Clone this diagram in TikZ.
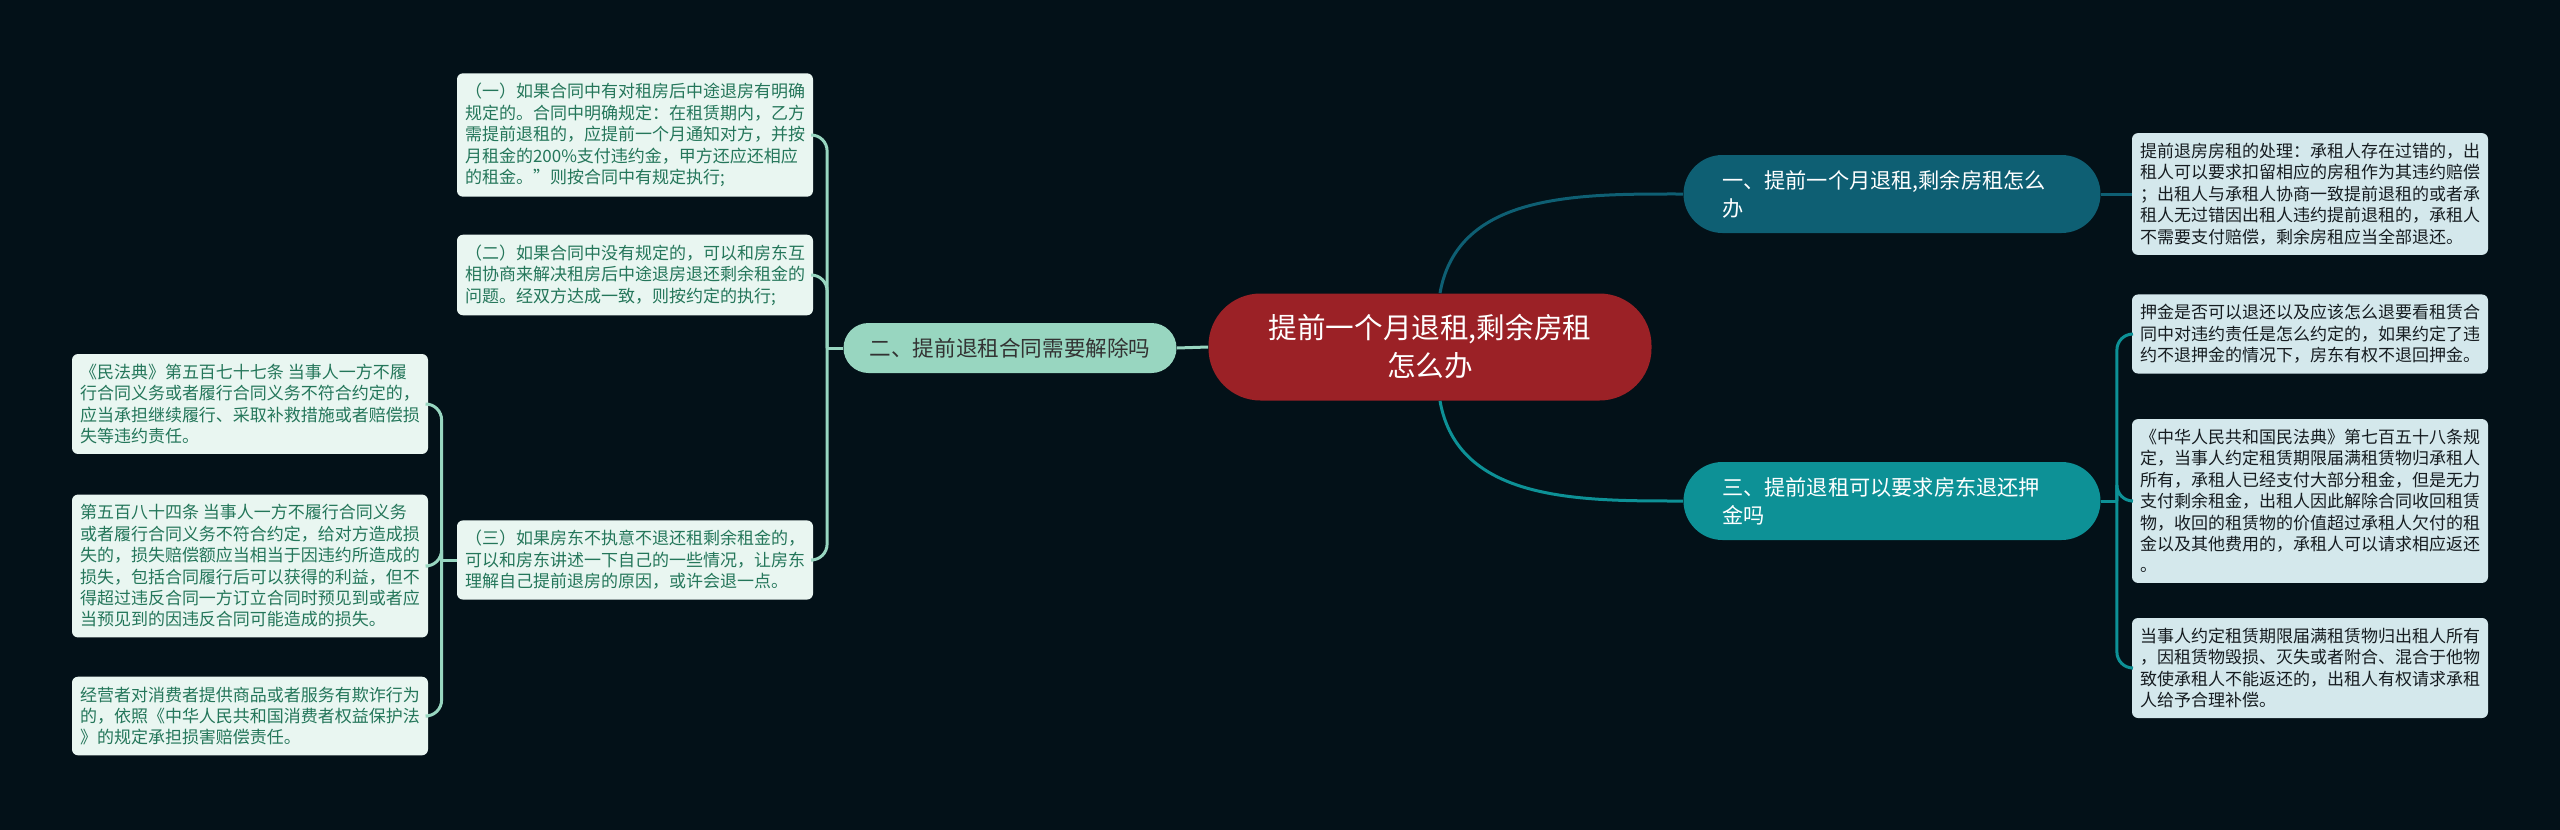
\documentclass[tikz,border=0pt]{standalone}
\usepackage{fontspec}
\setmainfont{Noto Sans CJK SC}
\usetikzlibrary{calc}

\definecolor{bgdark}{RGB}{3,17,24}
\definecolor{rootred}{RGB}{155,33,38}
\definecolor{topicblue}{RGB}{14,95,115}
\definecolor{topicteal}{RGB}{13,145,150}
\definecolor{topicmint}{RGB}{152,214,192}
\definecolor{leafmint}{RGB}{233,246,241}
\definecolor{leafgreen}{RGB}{36,118,90}
\definecolor{leafblue}{RGB}{212,232,236}
\definecolor{leafink}{RGB}{22,28,32}

\begin{document}
\begin{tikzpicture}[x=0.5pt,y=-0.5pt,
  root/.style={fill=rootred, text=white, rounded corners=26pt, minimum width=221.5pt, minimum height=53.5pt, align=center, font=\fontsize{14.3}{19}\selectfont},
  topic/.style={text=white, rounded corners=19.5pt, minimum width=208.5pt, minimum height=39pt, text width=170pt, inner xsep=19pt, align=left, font=\fontsize{10.6}{14}\selectfont},
  topicpill/.style={fill=topicmint, text=black!80, rounded corners=12.5pt, minimum width=166.5pt, minimum height=25pt, font=\fontsize{10.8}{13}\selectfont},
  leaf/.style={rounded corners=3pt, minimum width=177.5pt, inner xsep=4pt, inner ysep=5pt, align=left, font=\fontsize{8.5}{10.7}\selectfont},
  leafl/.style={leaf, fill=leafmint, text=leafgreen},
  leafr/.style={leaf, fill=leafblue, text=leafink},
  wire/.style={line width=1.5pt}]
\useasboundingbox (0,0) rectangle (2560,830);
\fill[bgdark] (0,0) rectangle (2560,830);

\node[root] (cen) at (1430,347) {提前一个月退租,剩余房租\\怎么办};
\node[topic, fill=topicblue] (b1) at (1892,194) {一、提前一个月退租,剩余房租怎么\\办};
\node[topicpill] (b2) at (1010,348) {二、提前退租合同需要解除吗};
\node[topic, fill=topicteal] (b3) at (1892,501) {三、提前退租可以要求房东退还押\\金吗};

\node[leafl] (l1) at (635,135) {（一）如果合同中有对租房后中途退房有明确\\规定的。合同中明确规定：在租赁期内，乙方\\需提前退租的，应提前一个月通知对方，并按\\月租金的200\%支付违约金，甲方还应还相应\\的租金。”则按合同中有规定执行;};
\node[leafl] (l2) at (635,275) {（二）如果合同中没有规定的，可以和房东互\\相协商来解决租房后中途退房退还剩余租金的\\问题。经双方达成一致，则按约定的执行;};
\node[leafl] (l3) at (635,560) {（三）如果房东不执意不退还租剩余租金的，\\可以和房东讲述一下自己的一些情况，让房东\\理解自己提前退房的原因，或许会退一点。};

\node[leafl] (ll1) at (250,404) {《民法典》第五百七十七条 当事人一方不履\\行合同义务或者履行合同义务不符合约定的，\\应当承担继续履行、采取补救措施或者赔偿损\\失等违约责任。};
\node[leafl] (ll2) at (250,566) {第五百八十四条 当事人一方不履行合同义务\\或者履行合同义务不符合约定，给对方造成损\\失的，损失赔偿额应当相当于因违约所造成的\\损失，包括合同履行后可以获得的利益，但不\\得超过违反合同一方订立合同时预见到或者应\\当预见到的因违反合同可能造成的损失。};
\node[leafl] (ll3) at (250,716) {经营者对消费者提供商品或者服务有欺诈行为\\的，依照《中华人民共和国消费者权益保护法\\》的规定承担损害赔偿责任。};

\node[leafr] (r1) at (2310,194) {提前退房房租的处理：承租人存在过错的，出\\租人可以要求扣留相应的房租作为其违约赔偿\\；出租人与承租人协商一致提前退租的或者承\\租人无过错因出租人违约提前退租的，承租人\\不需要支付赔偿，剩余房租应当全部退还。};
\node[leafr] (r2) at (2310,334) {押金是否可以退还以及应该怎么退要看租赁合\\同中对违约责任是怎么约定的，如果约定了违\\约不退押金的情况下，房东有权不退回押金。};
\node[leafr] (r3) at (2310,501) {《中华人民共和国民法典》第七百五十八条规\\定，当事人约定租赁期限届满租赁物归承租人\\所有，承租人已经支付大部分租金，但是无力\\支付剩余租金，出租人因此解除合同收回租赁\\物，收回的租赁物的价值超过承租人欠付的租\\金以及其他费用的，承租人可以请求相应返还\\。};
\node[leafr] (r4) at (2310,668) {当事人约定租赁期限届满租赁物归出租人所有\\，因租赁物毁损、灭失或者附合、混合于他物\\致使承租人不能返还的，出租人有权请求承租\\人给予合理补偿。};

\draw[wire, topicblue] ([xshift=5pt]cen.north) to[out=80,in=180] (b1.west);
\draw[wire, topicteal] ([xshift=5pt]cen.south) to[out=-80,in=180] (b3.west);
\draw[wire, topicmint] (cen.west) -- (b2.east);
\draw[wire, topicmint] (b2.west) -- ++(-16,0) coordinate (s2);
\foreach \t in {l1,l2,l3}
  \draw[wire, topicmint, rounded corners=8pt] (s2) |- (\t.east);
\draw[wire, topicmint] (l3.west) -- ++(-15,0) coordinate (s3);
\foreach \t in {ll1,ll2,ll3}
  \draw[wire, topicmint, rounded corners=8pt] (s3) |- (\t.east);
\draw[wire, topicblue] (b1.east) -- (r1.west);
\draw[wire, topicteal] (b3.east) -- ++(16,0) coordinate (t3);
\foreach \t in {r2,r3,r4}
  \draw[wire, topicteal, rounded corners=8pt] (t3) |- (\t.west);
\end{tikzpicture}
\end{document}
